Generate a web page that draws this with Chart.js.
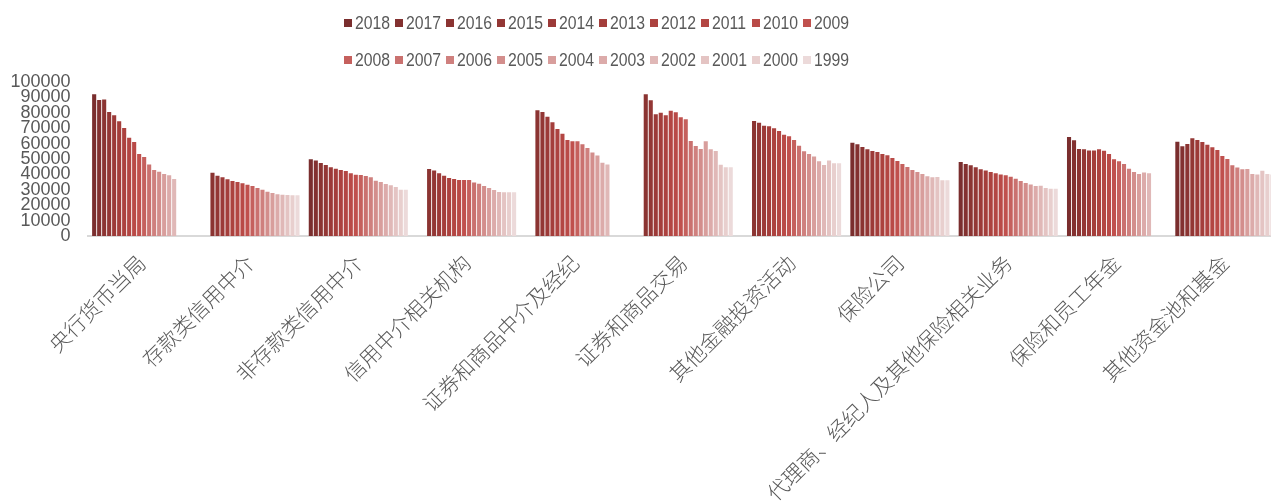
<!DOCTYPE html>
<html lang="zh">
<head>
  <meta charset="UTF-8" />
  <title>金融部门 1999-2018</title>
  <script src="https://cdn.jsdelivr.net/npm/chart.js"></script>
  <style>
    body {
      margin: 0;
      background: #fff;
      overflow: hidden;
    }
    .wrap {
      position: relative;
      width: 1279px;
      height: 504px;
    }
    #legend {
      position: absolute;
      left: 344px;
      top: 4px;
      display: grid;
      grid-template-columns: repeat(10, 51px);
      grid-auto-rows: 37px;
      font-family: "Liberation Sans", sans-serif;
      font-size: 19px;
      color: #595959;
    }
    #legend .item {
      display: flex;
      align-items: center;
      white-space: nowrap;
    }
    #legend .box {
      width: 8px;
      height: 8px;
      margin-right: 3px;
      flex: none;
    }
    #legend .txt {
      display: inline-block;
      transform: scaleX(0.83);
      transform-origin: left center;
    }
  </style>
</head>
<body>
<div class="wrap">
  <canvas id="chart"></canvas>
  <div id="legend"></div>
</div>

<script>
const categories = [
  "央行货币当局", "存款类信用中介", "非存款类信用中介", "信用中介相关机构",
  "证券和商品中介及经纪", "证券和商品交易", "其他金融投资活动", "保险公司",
  "代理商、经纪人及其他保险相关业务", "保险和员工年金", "其他资金池和基金"
];

const years = ["2018", "2017", "2016", "2015", "2014", "2013", "2012", "2011", "2010", "2009",
  "2008", "2007", "2006", "2005", "2004", "2003", "2002", "2001", "2000", "1999"];

// values per category, ordered 2018 -> 1999 (null = no data)
const centralBank = [92000, 88300, 88700, 80500, 78400, 74500, 70100, 63800, 61000, 53200,
  51300, 46500, 42900, 41800, 40300, 39400, 37000, null, null, null];
const depository = [null, null, 41100, 39200, 38100, 36800, 35700, 35100, 34200, 33300,
  32500, 31200, 30100, 28800, 27900, 27100, 26800, 26600, 26400, 26400];
const nonDepository = [49800, 49100, 47400, 46100, 44600, 43700, 42900, 42200, 40700, 39800,
  39600, 39000, 38100, 35900, 35100, 33800, 32900, 31800, 30100, 30100];
const creditRelated = [null, null, 43500, 42600, 40700, 39200, 37700, 37000, 36400, 36400,
  36400, 34800, 34000, 32500, 31200, 29900, 28600, 28400, 28400, 28400];
const secBrokerage = [null, null, 81600, 80500, 77500, 73800, 69500, 66400, 62300, 61500,
  61500, 59500, 57100, 54300, 52200, 47600, 46500, null, null, null];
const secExchange = [null, null, 92000, 88100, 79000, 80100, 78400, 81400, 80300, 77100,
  75800, 61700, 58400, 56500, 61500, 56300, 55200, 46300, 44600, 44600];
const otherInvest = [null, null, 74700, 73600, 71600, 71200, 69900, 68200, 65800, 64700,
  62300, 58600, 55000, 53200, 51700, 48500, 46100, 49100, 47200, 47200];
const insurers = [60600, 59500, 57800, 56300, 55200, 54500, 53200, 52400, 50600, 48700,
  46800, 44800, 42900, 41600, 40300, 38800, 38100, 38300, 36200, 36200];
const insAgents = [48100, 46800, 45900, 44600, 43300, 42600, 41600, 40700, 40000, 39400,
  38500, 37200, 35700, 34400, 33500, 32500, 32700, 31200, 30700, 30700];
const pensions = [64300, 62100, 56500, 56300, 55600, 55600, 56300, 55400, 53200, 49800,
  48500, 46800, 43700, 41600, 40300, 41300, 40700, null, null, null];
const otherFunds = [61200, 58200, 59700, 63400, 62300, 61000, 59300, 57600, 55800, 51900,
  50000, 45900, 44400, 43300, 43500, 40300, 40000, 42400, 40300, 40000];

const yTicks = [0, 10000, 20000, 30000, 40000, 50000, 60000, 70000, 80000, 90000, 100000];

const yearColors = ["#7a2e2e", "#833130", "#8b3432", "#933735", "#9c3a38", "#a43e3b", "#ac423f",
  "#b34643", "#b94a47", "#c0504d", "#c5605d", "#ca716f", "#cf807e", "#d38e8c", "#d89e9c",
  "#dcabaa", "#e0b8b7", "#e4c4c3", "#e8cfce", "#ecdada"];

const byCategory = [centralBank, depository, nonDepository, creditRelated, secBrokerage,
  secExchange, otherInvest, insurers, insAgents, pensions, otherFunds];

const datasets = years.map((y, i) => ({
  label: y,
  data: byCategory.map(arr => arr[i]),
  backgroundColor: yearColors[i],
  borderWidth: 0,
  categoryPercentage: 0.923,
  barPercentage: 0.82
}));

const grey = "#595959";

const htmlLegend = {
  id: "htmlLegend",
  afterUpdate(chart) {
    const box = document.getElementById("legend");
    box.innerHTML = "";
    const items = chart.options.plugins.legend.labels.generateLabels(chart);
    items.forEach(item => {
      const el = document.createElement("div");
      el.className = "item";
      const sq = document.createElement("span");
      sq.className = "box";
      sq.style.background = item.fillStyle;
      const txt = document.createElement("span");
      txt.className = "txt";
      txt.textContent = item.text;
      el.appendChild(sq);
      el.appendChild(txt);
      box.appendChild(el);
    });
  }
};

new Chart(document.getElementById("chart"), {
  type: "bar",
  data: { labels: categories, datasets: datasets },
  plugins: [htmlLegend],
  options: {
    responsive: true,
    maintainAspectRatio: false,
    animation: false,
    layout: { padding: { top: 82, right: 0, left: 0, bottom: 0 } },
    plugins: {
      legend: { display: false },
      tooltip: { enabled: false }
    },
    scales: {
      x: {
        grid: { display: false, drawTicks: false },
        border: { display: true, color: "#d9d9d9", width: 2 },
        ticks: {
          autoSkip: false,
          minRotation: 45,
          maxRotation: 45,
          padding: 14,
          color: grey,
          font: { family: "'Noto Sans CJK SC', sans-serif", size: 21, weight: 300 }
        },
        afterFit(scale) { scale.height = 268; }
      },
      y: {
        min: 0,
        max: 100000,
        grid: { display: false, drawTicks: false },
        border: { display: false },
        ticks: {
          autoSkip: false,
          stepSize: 10000,
          padding: 17,
          color: grey,
          font: { family: "'Liberation Sans', sans-serif", size: 18 },
          callback: v => yTicks.includes(v) ? String(v) : ""
        },
        afterFit(scale) { scale.width = 87.5; }
      }
    }
  }
});
</script>
</body>
</html>
